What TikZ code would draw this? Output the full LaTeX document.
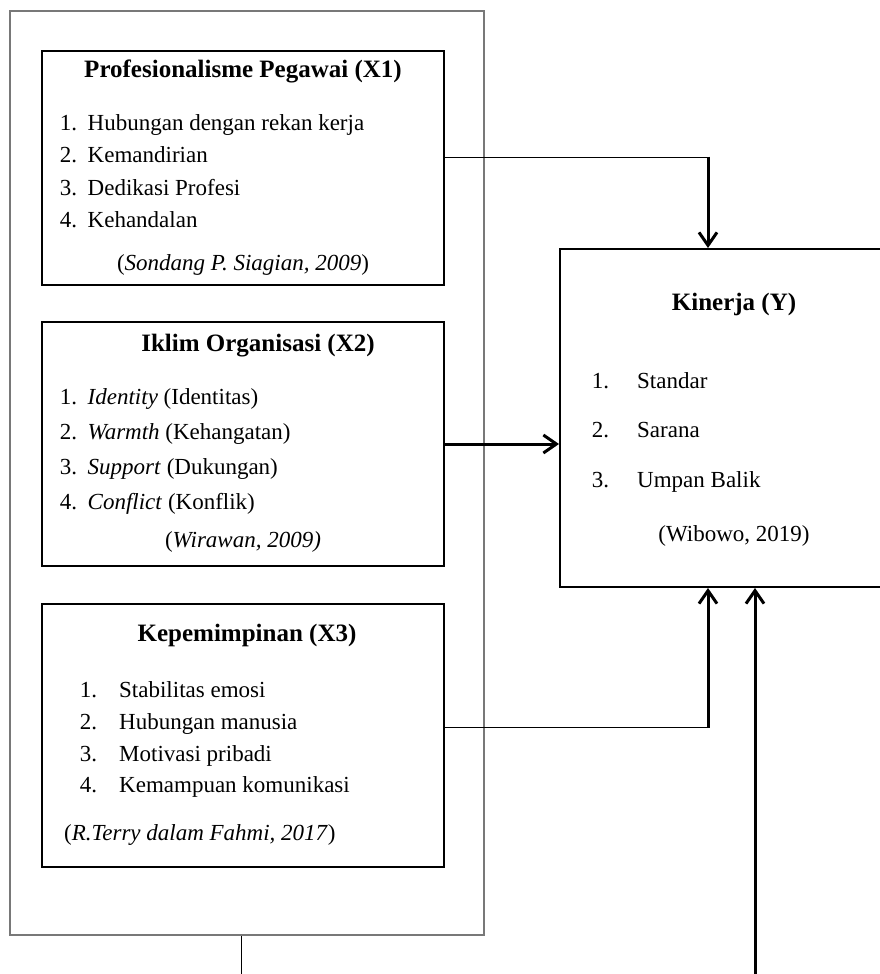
\documentclass[tikz,border=0pt]{standalone}
\usepackage{fontspec}
\setmainfont{Liberation Serif}
\usetikzlibrary{arrows.meta,positioning}
\definecolor{framegray}{RGB}{120,120,120}
\newcommand{\diagfont}{\fontsize{23}{32}\selectfont}
\newcommand{\headfont}{\fontsize{25}{32}\selectfont\bfseries}

\begin{document}
\begin{tikzpicture} [
      x=1pt, y=-1pt,
      frame/.style={draw=framegray, rectangle, line width=1.5pt},
      varbox/.style={draw, rectangle, line width=2pt, minimum width=402pt},
      heading/.style={inner sep=0pt, font=\headfont},
      itemlist/.style={inner sep=0pt, anchor=west, font=\diagfont},
      source/.style={inner sep=0pt, font=\diagfont},
      thinline/.style={line width=1pt},
      thickarrow/.style={line width=3pt, -{Straight Barb[length=13pt,width=18pt]}}
   ]
    \useasboundingbox (0,0) rectangle (880,974);

    \node[frame, minimum width=474pt, minimum height=924pt] (ndFrame) at (247,473) {};

    \node[varbox, minimum height=234pt] (ndProf) at (243,168) {};
    \node[heading, below=10pt of ndProf.north] (hProf) {Profesionalisme Pegawai (X1)};
    \node[itemlist] (lProf) at (54,172.5) {
      \renewcommand{\arraystretch}{1.01}
      \begin{tabular}{@{}l@{\hspace{10.5pt}}l@{}}
        1. & Hubungan dengan rekan kerja \\
        2. & Kemandirian \\
        3. & Dedikasi Profesi \\
        4. & Kehandalan
      \end{tabular}
    };
    \node[source, above=10pt of ndProf.south] (sProf) {(\textit{Sondang P. Siagian, 2009})};

    \node[varbox, minimum height=244pt] (ndIklim) at (243,444) {};
    \node[heading, below=13pt of ndIklim.north, xshift=15pt] (hIklim) {Iklim Organisasi (X2)};
    \node[itemlist] (lIklim) at (54,450) {
      \renewcommand{\arraystretch}{1.09}
      \begin{tabular}{@{}l@{\hspace{10.5pt}}l@{}}
        1. & \textit{Identity} (Identitas) \\
        2. & \textit{Warmth} (Kehangatan) \\
        3. & \textit{Support} (Dukungan) \\
        4. & \textit{Conflict} (Konflik)
      \end{tabular}
    };
    \node[source, above=14pt of ndIklim.south] (sIklim) {(\textit{Wirawan, 2009)}};

    \node[varbox, minimum height=263pt] (ndPimp) at (243,735.5) {};
    \node[heading, below=21pt of ndPimp.north, xshift=4pt] (hPimp) {Kepemimpinan (X3)};
    \node[itemlist] (lPimp) at (74,739) {
      \renewcommand{\arraystretch}{0.99}
      \begin{tabular}{@{}l@{\hspace{22pt}}l@{}}
        1. & Stabilitas emosi \\
        2. & Hubungan manusia \\
        3. & Motivasi pribadi \\
        4. & Kemampuan komunikasi
      \end{tabular}
    };
    \node[source, above right=22pt and 23pt of ndPimp.south west] (sPimp) {(\textit{R.Terry dalam Fahmi, 2017})};

    \node[varbox, minimum width=348pt, minimum height=338pt] (ndKin) at (734,418) {};
    \node[heading, below=45pt of ndKin.north] (hKin) {Kinerja (Y)};
    \node[itemlist] (lKin) at (586,428) {
      \renewcommand{\arraystretch}{1.55}
      \begin{tabular}{@{}l@{\hspace{28pt}}l@{}}
        1. & Standar \\
        2. & Sarana \\
        3. & Umpan Balik
      \end{tabular}
    };
    \node[source, above=41pt of ndKin.south] (sKin) {(Wibowo, 2019)};

    \coordinate (a1) at (708,157);
    \coordinate (a3) at (708,727);
    \coordinate (a4) at (755,974);
    \coordinate (s1) at (241,974);

    \draw[thinline] (ndProf.east |- a1) -- (a1);
    \draw[thickarrow] ([yshift=0.5pt]a1) -- (a1 |- ndKin.north);
    \draw[thickarrow] (ndIklim.east) -- (ndIklim.east -| ndKin.west);
    \draw[thinline] (ndPimp.east |- a3) -- (a3);
    \draw[thickarrow] ([yshift=-0.5pt]a3) -- (a3 |- ndKin.south);
    \draw[thickarrow] (a4) -- (a4 |- ndKin.south);
    \draw[thinline] (ndFrame.south -| s1) -- (s1);

  \end{tikzpicture}
\end{document}
